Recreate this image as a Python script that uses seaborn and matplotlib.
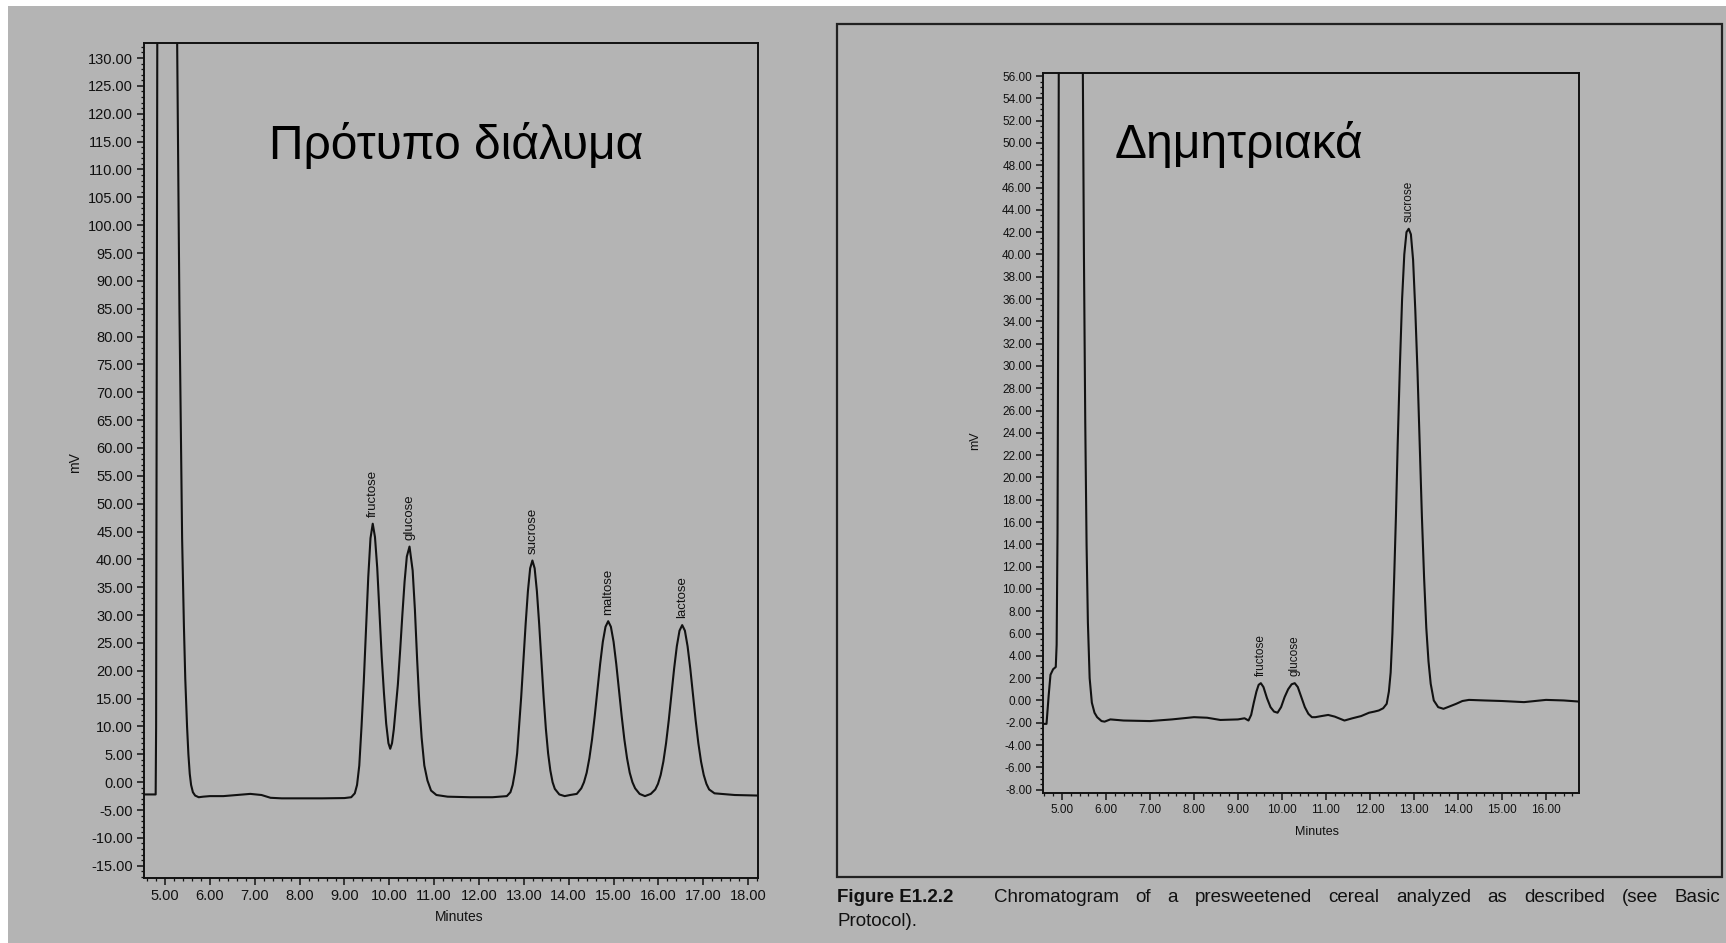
import numpy as np
import pandas as pd
import matplotlib
matplotlib.use("Agg")
import matplotlib.pyplot as plt
from matplotlib.patches import Rectangle
from matplotlib.ticker import MultipleLocator, FormatStrFormatter
import seaborn as sns

# Standard solution trace (minutes, mV)
std_time = [4.53, 4.79, 4.80, 4.81, 4.83, 4.86, 5.22, 5.27, 5.32, 5.38, 5.42, 5.45, 5.49, 5.52,
            5.55, 5.58, 5.62, 5.67, 5.75, 5.85, 6.00, 6.30, 6.60, 6.90, 7.15, 7.35, 7.60, 8.00,
            8.50, 9.00, 9.15, 9.23, 9.28, 9.33, 9.38, 9.43, 9.48, 9.53, 9.58, 9.63, 9.68, 9.73,
            9.78, 9.83, 9.88, 9.93, 9.98, 10.02, 10.06, 10.10, 10.14, 10.19, 10.24, 10.29, 10.34,
            10.39, 10.45, 10.52, 10.57, 10.62, 10.67, 10.72, 10.78, 10.85, 10.93, 11.05, 11.30,
            11.80, 12.30, 12.62, 12.70, 12.75, 12.80, 12.85, 12.89, 12.94, 12.99, 13.04, 13.09,
            13.14, 13.19, 13.24, 13.29, 13.34, 13.39, 13.44, 13.49, 13.54, 13.59, 13.64, 13.69,
            13.79, 13.91, 14.03, 14.18, 14.28, 14.34, 14.40, 14.46, 14.52, 14.58, 14.64, 14.70,
            14.76, 14.82, 14.88, 14.94, 15.00, 15.06, 15.12, 15.18, 15.24, 15.30, 15.36, 15.42,
            15.48, 15.58, 15.70, 15.83, 15.93, 15.99, 16.05, 16.11, 16.17, 16.23, 16.29, 16.35,
            16.41, 16.47, 16.53, 16.59, 16.65, 16.71, 16.77, 16.83, 16.89, 16.95, 17.01, 17.07,
            17.13, 17.25, 17.40, 17.70, 18.22]
std_mv = [-2.2, -2.2, 10.0, 60.0, 150.0, 250.0, 250.0, 132.0, 85.0, 43.7, 28.0, 18.6, 10.0, 5.0,
          1.5, -0.5, -1.8, -2.4, -2.7, -2.6, -2.5, -2.5, -2.3, -2.1, -2.3, -2.8, -2.9, -2.9,
          -2.9, -2.85, -2.7, -2.0, -0.5, 3.0, 10.0, 18.0, 27.4, 36.8, 43.8, 46.4, 44.0, 38.5,
          30.5, 22.5, 16.0, 10.5, 7.0, 6.0, 7.0, 9.5, 13.0, 17.5, 23.5, 30.0, 36.0,
          40.5, 42.3, 38.0, 31.0, 22.0, 14.0, 8.0, 3.0, 0.3, -1.5, -2.3, -2.6,
          -2.7, -2.7, -2.5, -1.8, -0.5, 1.8, 5.2, 9.6, 15.3, 21.8, 28.5, 34.3,
          38.4, 39.8, 38.4, 34.3, 28.5, 21.8, 15.3, 9.6, 5.2, 2.1, 0.0, -1.2,
          -2.2, -2.5, -2.3, -2.1, -1.1, 0.0, 1.7, 4.3, 7.7, 11.9, 16.6, 21.2,
          25.2, 27.9, 28.9, 27.9, 25.2, 21.2, 16.6, 11.9, 7.7, 4.3, 1.7, 0.0,
          -1.1, -2.1, -2.5, -2.1, -1.3, -0.3, 1.3, 3.7, 7.0, 11.1, 15.7, 20.4,
          24.4, 27.2, 28.2, 27.2, 24.4, 20.4, 15.7, 11.1, 7.0, 3.7, 1.3, -0.3,
          -1.3, -2.0, -2.1, -2.3, -2.4]

# Cereal sample trace (minutes, mV)
cer_time = [4.57, 4.65, 4.70, 4.74, 4.80, 4.86, 4.88, 4.90, 4.92, 4.93, 4.95, 5.45, 5.47, 5.50,
            5.53, 5.56, 5.59, 5.63, 5.68, 5.74, 5.80, 5.90, 5.97, 6.10, 6.40, 7.00, 7.50, 8.00,
            8.30, 8.60, 9.00, 9.15, 9.24, 9.30, 9.36, 9.42, 9.47, 9.52, 9.58, 9.66, 9.74, 9.82,
            9.90, 9.98, 10.06, 10.14, 10.22, 10.29, 10.36, 10.44, 10.52, 10.60, 10.68, 10.76,
            10.90, 11.05, 11.20, 11.42, 11.60, 11.80, 11.98, 12.10, 12.20, 12.30, 12.38, 12.43,
            12.47, 12.51, 12.55, 12.59, 12.63, 12.68, 12.73, 12.78, 12.83, 12.88, 12.93, 12.98,
            13.03, 13.08, 13.13, 13.18, 13.23, 13.28, 13.33, 13.38, 13.45, 13.55, 13.67, 13.80,
            13.96, 14.10, 14.25, 14.60, 15.00, 15.50, 16.00, 16.40, 16.75]
cer_mv = [-2.1, -2.1, 0.5, 2.3, 2.8, 3.0, 5.0, 15.0, 40.0, 60.0, 120.0, 120.0, 60.0, 40.0,
          25.0, 14.0, 7.0, 2.0, -0.2, -1.1, -1.5, -1.85, -1.9, -1.7, -1.8, -1.85, -1.7, -1.5,
          -1.55, -1.75, -1.7, -1.6, -1.8, -1.3, -0.2, 0.8, 1.4, 1.55, 1.2, 0.2, -0.6, -1.0,
          -1.1, -0.6, 0.3, 1.0, 1.45, 1.55, 1.2, 0.3, -0.6, -1.2, -1.5, -1.5,
          -1.4, -1.3, -1.45, -1.8, -1.6, -1.4, -1.1, -1.0, -0.9, -0.7, -0.3, 0.8,
          2.5, 6.0, 11.0, 16.5, 23.0, 30.0, 36.0, 40.0, 42.0, 42.3, 41.8, 39.5,
          35.0, 29.5, 23.0, 16.5, 11.0, 6.5, 3.5, 1.5, 0.0, -0.6, -0.75, -0.55,
          -0.3, -0.05, 0.05, 0.0, -0.05, -0.15, 0.05, 0.0, -0.1]

std_peaks = ["fructose", "glucose", "sucrose", "maltose", "lactose"]
std_peak_time = [9.63, 10.45, 13.19, 14.88, 16.53]
std_peak_mv = [46.4, 42.3, 39.8, 28.9, 28.2]

cer_peaks = ["fructose", "glucose", "sucrose"]
cer_peak_time = [9.52, 10.29, 12.88]
cer_peak_mv = [1.55, 1.55, 42.3]

std_title = "Πρότυπο διάλυμα"
cer_title = "Δημητριακά"
caption_head = "Figure E1.2.2"
caption_line1 = "Chromatogram of a presweetened cereal analyzed as described (see Basic"
caption_line2 = "Protocol)."

W, H = 1726, 943
BG = "#b4b4b4"
INK = "#111111"

sns.set_style("ticks")
plt.rcParams["font.family"] = ["Liberation Sans", "DejaVu Sans"]
plt.rcParams["axes.unicode_minus"] = False


def fx(px):
    return px / W


def fy(py):
    return 1 - py / H


fig = plt.figure(figsize=(W / 100, H / 100), dpi=100)
fig.patch.set_facecolor("white")
fig.patches.append(Rectangle((fx(8), 0), 1, fy(6), transform=fig.transFigure,
                             facecolor=BG, edgecolor="none", zorder=-10))
# frame around the cereal figure
fig.patches.append(Rectangle((fx(837), fy(877)), (1722 - 837) / W, (877 - 24) / H,
                             transform=fig.transFigure, fill=False, lw=1.6,
                             edgecolor="#222222", zorder=-5))


def style_axes(ax, xlim, ylim, xmaj, xmin, ymaj, ymin, size, pad):
    ax.set_facecolor(BG)
    ax.set_xlim(*xlim)
    ax.set_ylim(*ylim)
    ax.xaxis.set_major_locator(MultipleLocator(xmaj))
    ax.xaxis.set_minor_locator(MultipleLocator(xmin))
    ax.yaxis.set_major_locator(MultipleLocator(ymaj))
    ax.yaxis.set_minor_locator(MultipleLocator(ymin))
    ax.xaxis.set_major_formatter(FormatStrFormatter("%.2f"))
    ax.yaxis.set_major_formatter(FormatStrFormatter("%.2f"))
    for s in ax.spines.values():
        s.set_visible(True)
        s.set_linewidth(1.4)
        s.set_color(INK)
    ax.tick_params(which="major", direction="out", length=5, width=1.1, color=INK,
                   labelsize=size, labelcolor=INK, pad=pad, top=False, right=False)
    ax.tick_params(which="minor", direction="out", length=2.5, width=0.9, color=INK,
                   top=False, right=False)


# Standard solution
ax1 = fig.add_axes([fx(144), fy(878), (758 - 144) / W, (878 - 43) / H])
style_axes(ax1, (4.53, 18.22), (-17.2, 132.7), 1, 0.2, 5, 1, 10.5, 3)
ax1.set_xticks(np.arange(5, 19, 1))
ax1.set_yticks(np.arange(-15, 131, 5))
sns.lineplot(x=std_time, y=std_mv, ax=ax1, color=INK, lw=1.5, sort=False, estimator=None)
for name, t, v in zip(std_peaks, std_peak_time, std_peak_mv):
    ax1.text(t, v + 1.2, name, rotation=90, ha="center", va="bottom", fontsize=9.5, color=INK)
ax1.set_xlabel("Minutes", fontsize=10, color=INK)
ax1.xaxis.label.set_va("center")
ax1.xaxis.set_label_coords(0.514, -0.0467)
ax1.set_ylabel("mV", fontsize=10, color=INK)
ax1.yaxis.label.set_va("center")
ax1.yaxis.set_label_coords(-0.112, 0.498)

# Cereal sample
ax2 = fig.add_axes([fx(1043), fy(793), (1579 - 1043) / W, (793 - 73) / H])
style_axes(ax2, (4.57, 16.75), (-8.3, 56.27), 1, 0.2, 2, 0.5, 8.5, 3)
ax2.set_xticks(np.arange(5, 17, 1))
ax2.set_yticks(np.arange(-8, 57, 2))
sns.lineplot(x=cer_time, y=cer_mv, ax=ax2, color=INK, lw=1.5, sort=False, estimator=None)
for name, t, v in zip(cer_peaks, cer_peak_time, cer_peak_mv):
    ax2.text(t, v + 0.6, name, rotation=90, ha="center", va="bottom", fontsize=8.5, color=INK)
ax2.set_xlabel("Minutes", fontsize=9, color=INK)
ax2.xaxis.label.set_va("center")
ax2.xaxis.set_label_coords(0.511, -0.054)
ax2.set_ylabel("mV", fontsize=9, color=INK)
ax2.yaxis.label.set_va("center")
ax2.yaxis.set_label_coords(-0.127, 0.49)

# Greek titles
fig.text(fx(456), fy(159), std_title, fontsize=34.5, ha="center", va="baseline", color="black")
fig.text(fx(1239), fy(158), cer_title, fontsize=34.5, ha="center", va="baseline", color="black")

# Caption, first line justified between x=994 and x=1720
fig.text(fx(837), fy(902), caption_head, fontsize=13.5, fontweight="bold",
         ha="left", va="baseline", color=INK)
fig.canvas.draw()
renderer = fig.canvas.get_renderer()
words = caption_line1.split()
word_artists = [fig.text(0, fy(902), w, fontsize=13.5, ha="left", va="baseline", color=INK)
                for w in words]
widths = [a.get_window_extent(renderer).width for a in word_artists]
gap = (1720 - 994 - sum(widths)) / (len(words) - 1)
x = 994
for a, w in zip(word_artists, widths):
    a.set_x(fx(x))
    x += w + gap
fig.text(fx(837), fy(926), caption_line2, fontsize=13.5, ha="left", va="baseline", color=INK)

fig.savefig("out.png", dpi=100, facecolor=fig.get_facecolor())
